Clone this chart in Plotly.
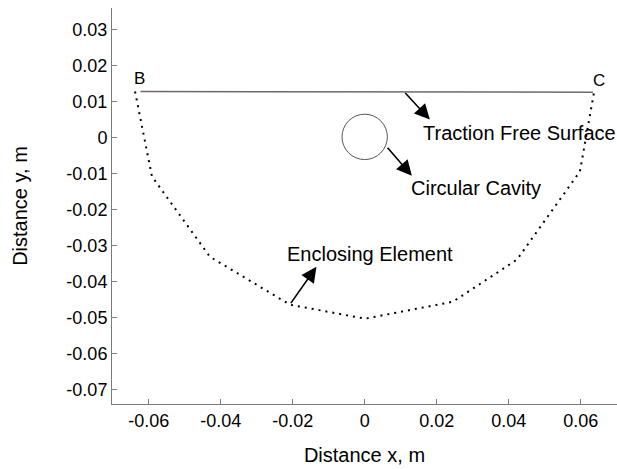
import plotly.graph_objects as go

# Enclosing element (dotted polygon) vertices
enc_x = [-0.0638, -0.0591, -0.0430, -0.0208, 0.0001, 0.0245, 0.0423, 0.0598, 0.0637]
enc_y = [0.0128, -0.0108, -0.0331, -0.0464, -0.0503, -0.0456, -0.0339, -0.0094, 0.0125]

# Traction free surface (B-C)
surf_x = [-0.0623, 0.0634]
surf_y = [0.0128, 0.0126]

# Circular cavity
cav_cx, cav_cy, cav_r = 0.0, 0.0002, 0.0063

# Tick values / labels
x_ticks = [-0.06, -0.04, -0.02, 0, 0.02, 0.04, 0.06]
x_labels = ["-0.06", "-0.04", "-0.02", "0", "0.02", "0.04", "0.06"]
y_ticks = [-0.07, -0.06, -0.05, -0.04, -0.03, -0.02, -0.01, 0, 0.01, 0.02, 0.03]
y_labels = ["-0.07", "-0.06", "-0.05", "-0.04", "-0.03", "-0.02", "-0.01", "0", "0.01", "0.02", "0.03"]

FONT = "Liberation Sans, Arial, sans-serif"

fig = go.Figure()
fig.add_trace(go.Scatter(x=enc_x, y=enc_y, mode="lines",
                         line=dict(color="black", width=2, dash="2px,5px"),
                         showlegend=False, hoverinfo="skip"))
fig.add_trace(go.Scatter(x=surf_x, y=surf_y, mode="lines",
                         line=dict(color="#6a6a6a", width=1.5),
                         showlegend=False, hoverinfo="skip"))

fig.add_shape(type="circle", xref="x", yref="y",
              x0=cav_cx - cav_r, x1=cav_cx + cav_r,
              y0=cav_cy - cav_r, y1=cav_cy + cav_r,
              line=dict(color="#555555", width=1))

# Arrows: (tail) -> (head)
arrows = [
    ((0.0109, 0.0128), (0.0181, 0.0050)),
    ((0.0060, -0.0024), (0.0131, -0.0106)),
    ((-0.0208, -0.0464), (-0.0134, -0.0359)),
]
for (tx, ty), (hx, hy) in arrows:
    fig.add_annotation(x=hx, y=hy, ax=tx, ay=ty, xref="x", yref="y",
                       axref="x", ayref="y", text="", showarrow=True,
                       arrowhead=2, arrowsize=1.9, arrowwidth=1.6,
                       arrowcolor="black", standoff=0, startstandoff=0)

labels = [
    ("Traction Free Surface", 0.0156, 0.0014, 20, "left"),
    ("Circular Cavity", 0.0123, -0.0139, 20, "left"),
    ("Enclosing Element", -0.0221, -0.0322, 20, "left"),
    ("B", -0.0626, 0.0164, 17, "center"),
    ("C", 0.0650, 0.0159, 17, "center"),
]
for txt, lx, ly, fs, anc in labels:
    fig.add_annotation(x=lx, y=ly, xref="x", yref="y", text=txt,
                       showarrow=False, xanchor=anc, yanchor="middle",
                       font=dict(family=FONT, size=fs, color="black"))

axis_common = dict(showgrid=False, zeroline=False, showline=True,
                   linecolor="#7a7a7a", linewidth=1, ticks="inside",
                   ticklen=5, tickcolor="#7a7a7a", mirror=False,
                   tickfont=dict(family=FONT, size=18, color="black"))

fig.update_layout(
    width=617, height=469,
    margin=dict(l=112, r=0, t=8, b=65, autoexpand=False),
    paper_bgcolor="white", plot_bgcolor="white",
    xaxis=dict(range=[-0.0702, 0.0701], tickvals=x_ticks, ticktext=x_labels,
               title=dict(text="Distance x, m", standoff=18,
                          font=dict(family=FONT, size=20, color="black")),
               **axis_common),
    yaxis=dict(range=[-0.074, 0.036], tickvals=y_ticks, ticktext=y_labels,
               title=dict(text="Distance y, m", standoff=33,
                          font=dict(family=FONT, size=20, color="black")),
               **axis_common),
)

fig.write_html("out.html", config={"displayModeBar": False},
               post_script="document.body.style.margin='0';document.body.style.overflow='hidden';")
